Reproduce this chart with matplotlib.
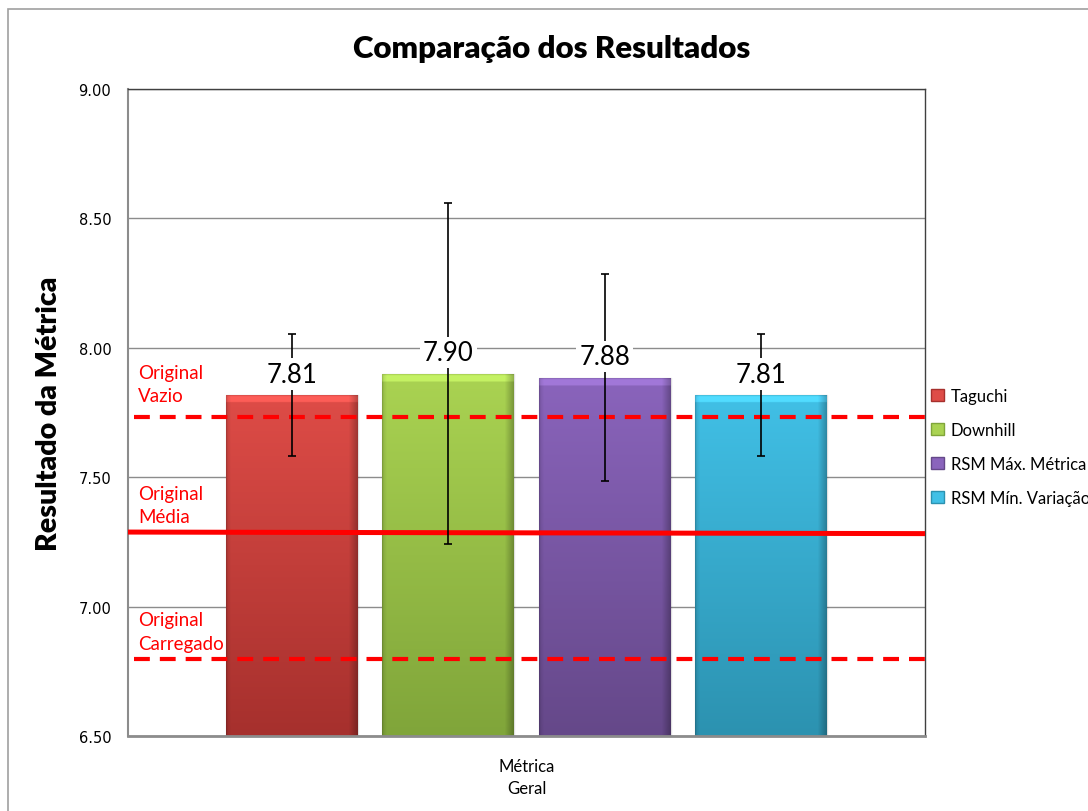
import numpy as np
import matplotlib
matplotlib.use("Agg")
import matplotlib.pyplot as plt
from matplotlib.patches import Rectangle
from matplotlib.colors import LinearSegmentedColormap

# ---------------- data ----------------
series = ["Taguchi", "Downhill", "RSM Máx. Métrica", "RSM Mín. Variação"]
values = [7.818, 7.900, 7.885, 7.818]
value_labels = ["7.81", "7.90", "7.88", "7.81"]
errors = [0.236, 0.66, 0.40, 0.236]
category = "Métrica\nGeral"
ref_names = ["Original\nVazio", "Original\nMédia", "Original\nCarregado"]
ref_values = [7.733, 7.285, 6.798]
ref_styles = ["dashed", "solid", "dashed"]
yticks = [6.50, 7.00, 7.50, 8.00, 8.50, 9.00]

top_colors = ["#DE4C47", "#AAD352", "#8A64BC", "#41C0E6"]
bot_colors = ["#A6302D", "#80A53A", "#654889", "#2C92B0"]

FONT = ["Lato", "DejaVu Sans"]

fig = plt.figure(figsize=(10.88, 8.12), dpi=100)
# outer chart border
fig.add_artist(Rectangle((8 / 1088, -0.01), 1.1, 1 - 10 / 812 + 0.01, transform=fig.transFigure,
                         fill=False, edgecolor="#A0A0A0", lw=1.2))

ax = fig.add_axes([128 / 1088, 1 - 737 / 812, 797 / 1088, (737 - 90) / 812])
ax.set_xlim(-0.5, 0.5)
ax.set_ylim(6.5, 9.0)

# grid
for t in yticks:
    ax.axhline(t, color="#8C8C8C", lw=1.0, zorder=0.5)

width = 0.1656
step = 0.196
offsets = [(i - 1.5) * step for i in range(len(series))]

for i, (x, v) in enumerate(zip(offsets, values)):
    cmap = LinearSegmentedColormap.from_list("g", [bot_colors[i], top_colors[i]])
    grad = np.linspace(0, 1, 256).reshape(-1, 1)
    horiz = np.ones((1, 64))
    horiz[0, -5:] = np.linspace(1, 0.75, 5)
    horiz[0, :3] = np.linspace(0.9, 1, 3)
    rgba = cmap(grad * np.ones((1, 64)))
    rgba[..., :3] *= horiz[..., None]
    rgba[-6:, :, :3] = np.clip(rgba[-6:, :, :3] * 1.10 + 0.04, 0, 1)
    rect = Rectangle((x - width / 2, 6.5), width, v - 6.5, facecolor="none",
                     edgecolor="none", zorder=2)
    ax.add_patch(rect)
    im = ax.imshow(rgba, extent=[x - width / 2, x + width / 2, 6.5, v],
                   origin="lower", aspect="auto", zorder=2, interpolation="bilinear")
    im.set_clip_path(rect)
    ax.add_patch(Rectangle((x - width / 2, 6.5), width, v - 6.5, facecolor="none",
                           edgecolor=(0, 0, 0, 0.12), lw=1.0, zorder=2.1))

# reference lines
for val, st in zip(ref_values, ref_styles):
    if st == "dashed":
        ax.plot([-0.493, 0.5], [val, val], color="#FF0000", lw=3.0,
                dashes=(3.8, 2.4), zorder=3, solid_capstyle="butt")
    else:
        ax.plot([-0.5, 0.5], [val + 0.003, val - 0.003], color="#FF0000", lw=3.6, zorder=3)

# error bars
ax.errorbar(offsets, values, yerr=errors, fmt="none", ecolor="black",
            elinewidth=1.2, capsize=3.0, capthick=1.2, zorder=4)

# value labels
for x, v, lab in zip(offsets, values, value_labels):
    ax.annotate(lab, (x, v), xytext=(0, 6), textcoords="offset points",
                ha="center", va="bottom", fontsize=18.5, family=FONT, zorder=5,
                bbox=dict(boxstyle="square,pad=0.12", fc="white", ec="none"))

# reference labels
label_pos = [7.86, 7.393, 6.904]
for name, y in zip(ref_names, label_pos):
    ax.text(-0.487, y, name, color="#FF0000", fontsize=13.5, family=FONT,
            ha="left", va="center", linespacing=1.45, zorder=5)

# axes styling
ax.set_yticks(yticks)
ax.set_yticklabels([f"{t:.2f}" for t in yticks], fontsize=10.5)
ax.tick_params(axis="y", length=0, pad=12)
ax.set_xticks([])
for s in ["left", "bottom"]:
    ax.spines[s].set_color("#8C8C8C")
    ax.spines[s].set_linewidth(2.0 if s == "bottom" else 1.5)
ax.spines["top"].set_color("#404040")
ax.spines["right"].set_color("#404040")
ax.spines["top"].set_linewidth(1.0)
ax.spines["right"].set_linewidth(1.0)

ax.text(0.5, -0.034, category, transform=ax.transAxes, ha="center", va="top",
        fontsize=12, family=FONT, linespacing=1.5)

ax.set_ylabel("Resultado da Métrica", fontsize=20.5, fontweight="heavy", family=FONT)
ax.yaxis.set_label_coords(-0.083, 0.5)

fig.text(552 / 1088, 1 - 49 / 812, "Comparação dos Resultados", ha="center",
         va="center", fontsize=22.5, fontweight="heavy", family=FONT)

# legend
handles = []
for i in range(len(series)):
    handles.append(Rectangle((0, 0), 1, 1, facecolor=top_colors[i],
                             edgecolor=bot_colors[i], lw=1))
leg = fig.legend(handles, series, loc="upper left",
                 bbox_to_anchor=(931 / 1088, 1 - 389 / 812), frameon=False,
                 prop={"family": FONT, "size": 12}, handlelength=0.75, handleheight=0.75,
                 handletextpad=0.45, labelspacing=1.08, borderaxespad=0, borderpad=0)

fig.savefig("out.png", dpi=100)
